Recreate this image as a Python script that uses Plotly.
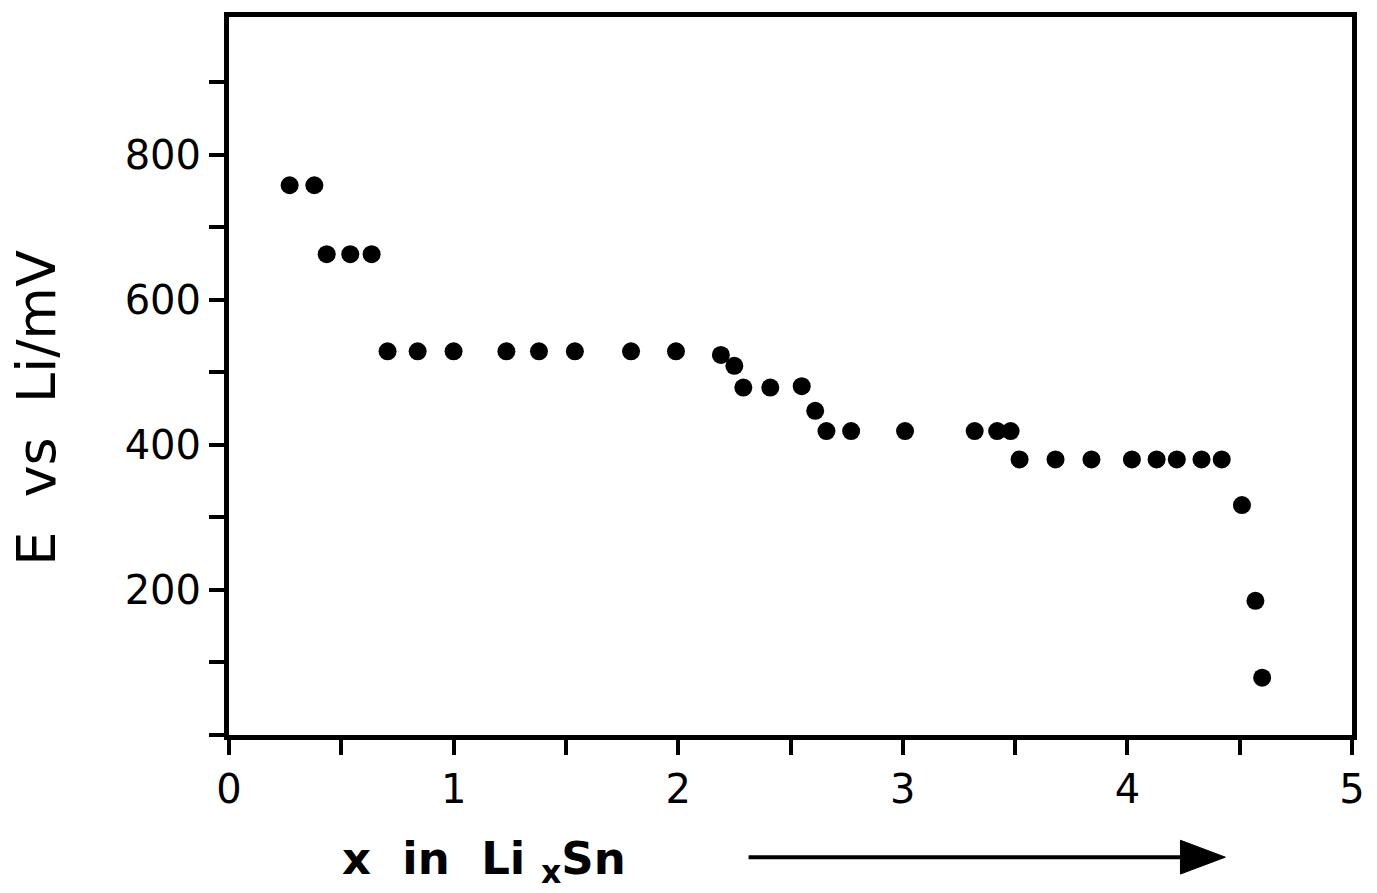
import plotly.graph_objects as go

# Data (x in LixSn, E vs Li in mV)
x_li = [0.27, 0.38, 0.435, 0.54, 0.635, 0.706, 0.84, 1.0, 1.235, 1.38, 1.54, 1.79, 1.99,
        2.19, 2.25, 2.29, 2.41, 2.55, 2.61, 2.66, 2.77, 3.01, 3.32, 3.42, 3.48,
        3.52, 3.68, 3.84, 4.02, 4.13, 4.22, 4.33, 4.42, 4.51, 4.57, 4.60]
e_mv = [758, 758, 663, 663, 663, 529, 529, 529, 529, 529, 529, 529, 529,
        524, 509, 479, 479, 481, 447, 419, 419, 419, 419, 419, 419,
        380, 380, 380, 380, 380, 380, 380, 380, 317, 185, 79]

x_tickvals = [0, 0.5, 1, 1.5, 2, 2.5, 3, 3.5, 4, 4.5, 5]
x_ticktext = ["0", "", "1", "", "2", "", "3", "", "4", "", "5"]
y_tickvals = [0, 100, 200, 300, 400, 500, 600, 700, 800, 900]
y_ticktext = ["", "", "200", "", "400", "", "600", "", "800", ""]

W, H = 1377, 893
L, R, T, B = 229, 22, 12, 158
pw, ph = W - L - R, H - T - B

def px_to_paper(px, py):
    return (px - L) / pw, (H - B - py) / ph

fig = go.Figure()
fig.add_trace(go.Scatter(
    x=x_li, y=e_mv, mode="markers",
    marker=dict(color="black", size=18, line=dict(width=0)),
    showlegend=False, cliponaxis=False,
))

font_family = "DejaVu Sans"
axis_common = dict(
    showline=True, linecolor="black", linewidth=5, mirror=True,
    ticks="outside", ticklen=15, tickwidth=4, tickcolor="black",
    showgrid=False, zeroline=False,
)
fig.update_xaxes(range=[0, 5], tickvals=x_tickvals, ticktext=x_ticktext,
                 tickfont=dict(family=font_family, size=40, color="black"),
                 **axis_common)
fig.update_yaxes(range=[0, 990], tickvals=y_tickvals, ticktext=y_ticktext,
                 tickfont=dict(family=font_family, size=40, color="black"),
                 **axis_common)

# Axis titles as annotations
tx, ty = px_to_paper(36, 406)
fig.add_annotation(text="E  vs  Li/mV", xref="paper", yref="paper", x=tx, y=ty,
                   xanchor="center", yanchor="middle", textangle=-90, showarrow=False,
                   font=dict(family=font_family, size=54, color="black"))
tx, ty = px_to_paper(340, 862)
fig.add_annotation(text="x  in  Li <sub>x</sub>Sn", xref="paper", yref="paper", x=tx, y=ty,
                   xanchor="left", yanchor="middle", showarrow=False,
                   font=dict(family=font_family, size=45, color="black", weight="bold"))

# Arrow (decoration)
x0, y0 = px_to_paper(750, 858)
x1, _ = px_to_paper(1183, 858)
xt, _ = px_to_paper(1228, 858)
_, yh1 = px_to_paper(0, 841)
_, yh2 = px_to_paper(0, 875)
fig.add_shape(type="line", xref="paper", yref="paper", x0=x0, y0=y0, x1=x1 + 0.002, y1=y0,
              line=dict(color="black", width=4))
fig.add_shape(type="path", xref="paper", yref="paper",
              path=f"M {x1},{yh1} L {xt},{y0} L {x1},{yh2} Z",
              fillcolor="black", line=dict(color="black", width=1))

fig.update_layout(
    width=W, height=H,
    margin=dict(l=L, r=R, t=T, b=B),
    plot_bgcolor="white", paper_bgcolor="white",
)

fig.write_html("out.html")
